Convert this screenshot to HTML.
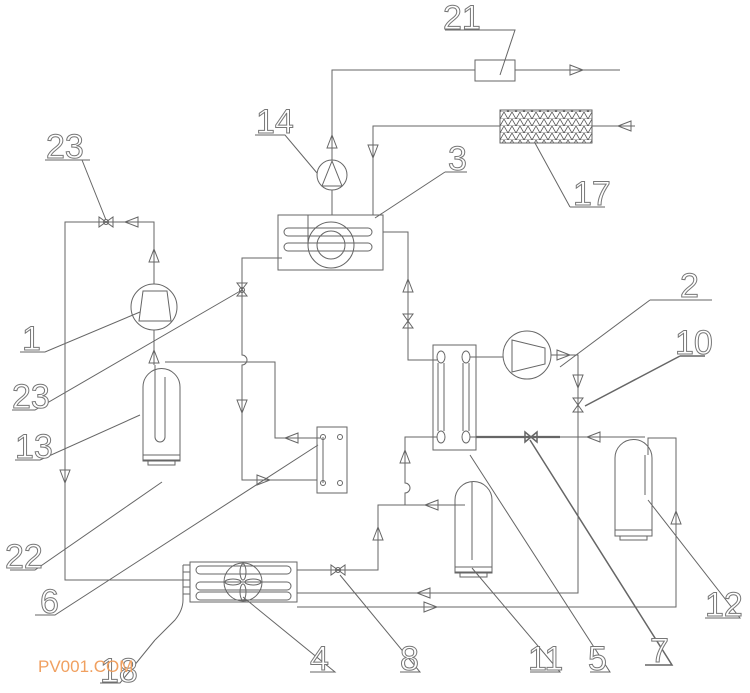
<!DOCTYPE html>
<html><head><meta charset="utf-8"><style>
html,body{margin:0;padding:0;background:#fff}
svg{display:block}
text{font-family:"Liberation Sans",sans-serif;font-size:34px;fill:#fff;stroke:#777;stroke-width:1}
</style></head><body>
<svg width="750" height="693" viewBox="0 0 750 693" xmlns="http://www.w3.org/2000/svg">
<defs>
<pattern id="hx" width="8" height="7" patternUnits="userSpaceOnUse">
<path d="M0 0L4 7L8 0M0 7L8 7" stroke="#555" fill="none" stroke-width="0.8"/>
</pattern>
</defs>
<g stroke="#666" stroke-width="1" fill="none">
<path d="M332 160V70H475"/><rect x="475" y="60" width="40" height="21"/><path d="M515 70H620"/>
<path d="M570 65L583 70L570 75Z"/>
<path d="M373 215V126H500"/><rect x="500" y="110" width="92" height="33" fill="url(#hx)"/><path d="M592 126H635"/>
<path d="M631 121L618 126L631 131Z"/>
<path d="M368 145L373 158L378 145Z"/>
<circle cx="332" cy="175" r="15"/><path d="M332 161L322 186H342Z"/>
<path d="M332 190V215"/>
<path d="M327 148L332 135L337 148Z"/>
<rect x="278" y="215" width="105" height="55"/>
<path d="M288 228H368a4 4 0 0 1 0 8H288a4 4 0 0 1 0-8Z"/>
<path d="M288 243H368a4 4 0 0 1 0 8H288a4 4 0 0 1 0-8Z"/>
<circle cx="331" cy="245" r="23"/><circle cx="331" cy="245" r="14"/>
<path d="M308 245V215"/>
<path d="M383 232H408V360H437"/>
<path d="M403 292L408 279L413 292Z"/>
<path d="M403 314L413 314L403 328L413 328Z"/>
<path d="M282 258H242V355a5 5 0 0 1 0 10V480H317"/>
<path d="M237 283L247 283L237 296L247 296Z"/><circle cx="242" cy="290" r="2.5"/>
<path d="M237 400L242 413L247 400Z"/>
<path d="M257 475L270 480L257 485Z"/>
<rect x="317" y="427" width="30" height="66"/>
<circle cx="323" cy="437" r="2.5"/><circle cx="340" cy="437" r="2.5"/><circle cx="323" cy="483" r="2.5"/><circle cx="340" cy="483" r="2.5"/>
<path d="M323 437V483"/>
<path d="M320 438H275V362H165"/>
<path d="M298 433L285 438L298 443Z"/>
<path d="M143 460V387a18 18 0 0 1 37 0V460Z"/>
<path d="M155 365V437a5 5 0 0 0 10 0V377"/>
<rect x="143" y="455" width="37" height="6"/><rect x="148" y="461" width="27" height="4"/>
<path d="M154 365V330"/>
<path d="M149 363L154 350L159 363Z"/>
<circle cx="154" cy="307" r="23"/>
<path d="M143 291H167L171 321H139Z"/>
<path d="M154 284V222H65V580H190"/>
<path d="M149 262L154 249L159 262Z"/>
<path d="M138 217L125 222L138 227Z"/>
<path d="M99 217L99 227L113 217L113 227Z"/><circle cx="106" cy="222" r="2.5"/>
<path d="M60 470L65 483L70 470Z"/>
<rect x="190" y="562" width="107" height="40"/>
<path d="M200 566H287a4 4 0 0 1 0 8H200a4 4 0 0 1 0-8Z"/>
<path d="M200 582H287a4 4 0 0 1 0 8H200a4 4 0 0 1 0-8Z"/>
<path d="M200 592H287a4 4 0 0 1 0 8H200a4 4 0 0 1 0-8Z"/>
<circle cx="243" cy="582" r="19"/>
<ellipse cx="243" cy="572" rx="3" ry="8"/><ellipse cx="243" cy="592" rx="3" ry="8"/>
<ellipse cx="233" cy="582" rx="8" ry="3"/><ellipse cx="253" cy="582" rx="8" ry="3"/>
<path d="M183 565H190M183 572H190M183 580H190M183 587H190M183 594H190"/>
<path d="M183 565V600Q183 610 175 620Q165 630 155 640"/>
<path d="M297 570H378V505H465"/>
<path d="M331 565L331 575L345 565L345 575Z"/><circle cx="338" cy="570" r="2.5"/>
<path d="M373 540L378 527L383 540Z"/>
<path d="M438 500L425 505L438 510Z"/>
<path d="M405 505V493a5 5 0 0 0 0-10V437H437"/>
<path d="M400 463L405 450L410 463Z"/>
<path d="M297 593H578V378"/>
<path d="M430 588L417 593L430 598Z"/>
<path d="M297 607H676V438H648V455"/>
<path d="M424 602L437 607L424 612Z"/>
<path d="M671 524L676 511L681 524Z"/>
<path d="M455 572V500a18 18 0 0 1 37 0V572Z"/>
<path d="M472 482V560"/>
<rect x="455" y="567" width="37" height="6"/><rect x="460" y="573" width="27" height="4"/>
<path d="M615 530V458a18 18 0 0 1 37 0V530Z"/>
<path d="M645 455V495"/>
<rect x="615" y="530" width="37" height="6"/><rect x="620" y="536" width="27" height="4"/>
<rect x="433" y="345" width="43" height="105"/>
<ellipse cx="441" cy="357" rx="4" ry="6"/><ellipse cx="466" cy="357" rx="4" ry="6"/>
<ellipse cx="441" cy="437" rx="4" ry="6"/><ellipse cx="466" cy="437" rx="4" ry="6"/>
<path d="M438 363V431M444 363V431M463 363V431M469 363V431"/>
<path d="M470 357H503"/>
<circle cx="527" cy="355" r="24"/><path d="M512 340L545 348V364L512 372Z"/>
<path d="M551 355H578V378"/>
<path d="M557 350L570 355L557 360Z"/>
<path d="M573 375L578 388L583 375Z"/>
<path d="M573 398L583 398L573 412L583 412Z"/>
<path d="M470 437H645" />
<path d="M476 437H560" stroke-width="2.2"/>
<path d="M525 432L525 442L537 432L537 442Z" stroke-width="1.5"/>
<path d="M600 432L587 437L600 442Z"/>
<path d="M445 30H515L500 75"/>
<path d="M570 207H605M570 207L535 143"/>
<path d="M255 135H285L317 173"/>
<path d="M445 172H467M445 172L375 218"/>
<path d="M45 160H90M82 160L106 220"/>
<path d="M20 352H45L140 312"/>
<path d="M12 410H35L242 290"/>
<path d="M15 460H40L140 415"/>
<path d="M10 570H35L162 482"/>
<path d="M35 615H55L318 445"/>
<path d="M650 300H712M650 300L560 367"/>
<path d="M680 356H705M680 356L585 406" stroke-width="1.5"/>
<path d="M310 672H335L243 597"/>
<path d="M400 672H420L340 575"/>
<path d="M530 672H560L472 568"/>
<path d="M590 672H610L470 455"/>
<path d="M645 665H672L530 440" stroke-width="1.5"/>
<path d="M705 618H740L648 500"/>
<path d="M100 683H120L155 640"/>
</g>
<text x="443" y="29">21</text>
<text x="573" y="205">17</text>
<text x="256" y="133">14</text>
<text x="448" y="170">3</text>
<text x="46" y="158">23</text>
<text x="22" y="350">1</text>
<text x="12" y="408">23</text>
<text x="15" y="458">13</text>
<text x="5" y="568">22</text>
<text x="40" y="613">6</text>
<text x="680" y="297">2</text>
<text x="675" y="354">10</text>
<text x="310" y="670">4</text>
<text x="400" y="670">8</text>
<text x="528" y="670">11</text>
<text x="588" y="670">5</text>
<text x="650" y="662">7</text>
<text x="705" y="616">12</text>
<text x="100" y="682">18</text>
<text x="38" y="672" style="font-size:17px;fill:#f0a060;stroke:none">PV001.COM</text>
</svg>
</body></html>
